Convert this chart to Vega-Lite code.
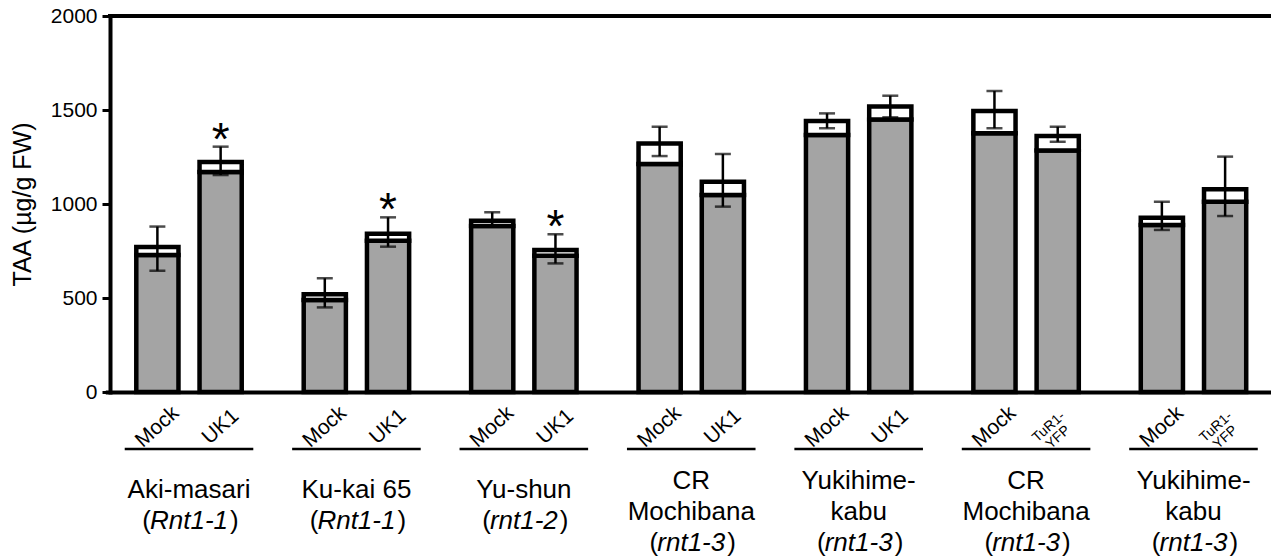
{
  "$schema": "https://vega.github.io/schema/vega-lite/v6.json",
  "width": 1161,
  "height": 376,
  "autosize": {"type": "none"},
  "padding": {"left": 110, "top": 16, "right": 0, "bottom": 166},
  "background": "white",
  "config": {
    "font": "Liberation Sans",
    "view": {"stroke": null},
    "axisX": {"labels": false, "ticks": false, "grid": false, "domainWidth": 4, "domainColor": "black"},
    "axisY": {"grid": false, "domainWidth": 4, "domainColor": "black", "domainCap": "square", "tickWidth": 3, "tickColor": "black", "tickSize": 8, "labelFontSize": 21, "labelColor": "black", "labelPadding": 5, "titleFontSize": 25, "titleFontWeight": "normal", "titleColor": "black", "titlePadding": 15}
  },
  "datasets": {
    "bars": [
      {"group": "Aki-masari", "role": "control", "treatment": "Mock", "hatch": 729, "total": 771, "lo": 645, "hi": 880, "star": false},
      {"group": "Aki-masari", "role": "treated", "treatment": "UK1", "hatch": 1170, "total": 1223, "lo": 1154, "hi": 1305, "star": true},
      {"group": "Ku-kai 65", "role": "control", "treatment": "Mock", "hatch": 489, "total": 520, "lo": 450, "hi": 605, "star": false},
      {"group": "Ku-kai 65", "role": "treated", "treatment": "UK1", "hatch": 805, "total": 842, "lo": 773, "hi": 929, "star": true},
      {"group": "Yu-shun", "role": "control", "treatment": "Mock", "hatch": 883, "total": 911, "lo": 879, "hi": 956, "star": false},
      {"group": "Yu-shun", "role": "treated", "treatment": "UK1", "hatch": 725, "total": 755, "lo": 684, "hi": 839, "star": true},
      {"group": "CR Mochibana (UK1)", "role": "control", "treatment": "Mock", "hatch": 1213, "total": 1322, "lo": 1255, "hi": 1411, "star": false},
      {"group": "CR Mochibana (UK1)", "role": "treated", "treatment": "UK1", "hatch": 1048, "total": 1119, "lo": 986, "hi": 1266, "star": false},
      {"group": "Yukihime-kabu (UK1)", "role": "control", "treatment": "Mock", "hatch": 1367, "total": 1441, "lo": 1403, "hi": 1482, "star": false},
      {"group": "Yukihime-kabu (UK1)", "role": "treated", "treatment": "UK1", "hatch": 1450, "total": 1518, "lo": 1461, "hi": 1576, "star": false},
      {"group": "CR Mochibana (TuR1-YFP)", "role": "control", "treatment": "Mock", "hatch": 1376, "total": 1495, "lo": 1403, "hi": 1601, "star": false},
      {"group": "CR Mochibana (TuR1-YFP)", "role": "treated", "treatment": "TuR1-YFP", "hatch": 1284, "total": 1362, "lo": 1331, "hi": 1411, "star": false},
      {"group": "Yukihime-kabu (TuR1-YFP)", "role": "control", "treatment": "Mock", "hatch": 888, "total": 927, "lo": 862, "hi": 1012, "star": false},
      {"group": "Yukihime-kabu (TuR1-YFP)", "role": "treated", "treatment": "TuR1-YFP", "hatch": 1012, "total": 1078, "lo": 936, "hi": 1252, "star": false}
    ],
    "groups": [
      {"group": "Aki-masari", "name": "Aki-masari", "gene": "Rnt1-1", "lines": 2},
      {"group": "Ku-kai 65", "name": "Ku-kai 65", "gene": "Rnt1-1", "lines": 2},
      {"group": "Yu-shun", "name": "Yu-shun", "gene": "rnt1-2", "lines": 2},
      {"group": "CR Mochibana (UK1)", "name": "CR\nMochibana", "gene": "rnt1-3", "lines": 3},
      {"group": "Yukihime-kabu (UK1)", "name": "Yukihime-\nkabu", "gene": "rnt1-3", "lines": 3},
      {"group": "CR Mochibana (TuR1-YFP)", "name": "CR\nMochibana", "gene": "rnt1-3", "lines": 3},
      {"group": "Yukihime-kabu (TuR1-YFP)", "name": "Yukihime-\nkabu", "gene": "rnt1-3", "lines": 3}
    ]
  },
  "layer": [
    {
      "data": {"name": "bars"},
      "mark": {"type": "bar", "fill": "#a4a4a4", "stroke": "black", "strokeWidth": 4.5},
      "encoding": {
        "x": {"field": "group", "type": "nominal", "title": null,
              "scale": {"domain": ["Aki-masari", "Ku-kai 65", "Yu-shun", "CR Mochibana (UK1)", "Yukihime-kabu (UK1)", "CR Mochibana (TuR1-YFP)", "Yukihime-kabu (TuR1-YFP)"], "range": [-4.7, 1167.2], "paddingInner": 0, "paddingOuter": 0}},
        "xOffset": {"field": "role", "type": "nominal", "scale": {"domain": ["control", "treated"], "paddingInner": 0.333, "paddingOuter": 0.49}},
        "y": {"field": "hatch", "type": "quantitative", "title": "TAA (µg/g FW)", "scale": {"domain": [0, 2000], "nice": false}, "axis": {"values": [0, 500, 1000, 1500, 2000], "format": "d"}}
      }
    },
    {
      "data": {"name": "bars"},
      "mark": {"type": "bar", "fill": "white", "stroke": "black", "strokeWidth": 4.5},
      "encoding": {
        "x": {"field": "group", "type": "nominal", "title": null},
        "xOffset": {"field": "role", "type": "nominal"},
        "y": {"field": "total", "type": "quantitative", "title": "TAA (µg/g FW)"},
        "y2": {"field": "hatch"}
      }
    },
    {
      "data": {"name": "bars"},
      "mark": {"type": "rule", "color": "black", "strokeWidth": 2.5},
      "encoding": {
        "x": {"field": "group", "type": "nominal", "title": null},
        "xOffset": {"field": "role", "type": "nominal"},
        "y": {"field": "lo", "type": "quantitative", "title": "TAA (µg/g FW)"},
        "y2": {"field": "hi"}
      }
    },
    {
      "data": {"name": "bars"},
      "mark": {"type": "tick", "color": "black", "size": 16, "thickness": 2.5},
      "encoding": {
        "x": {"field": "group", "type": "nominal", "title": null},
        "xOffset": {"field": "role", "type": "nominal"},
        "y": {"field": "lo", "type": "quantitative", "title": "TAA (µg/g FW)"}
      }
    },
    {
      "data": {"name": "bars"},
      "mark": {"type": "tick", "color": "black", "size": 16, "thickness": 2.5},
      "encoding": {
        "x": {"field": "group", "type": "nominal", "title": null},
        "xOffset": {"field": "role", "type": "nominal"},
        "y": {"field": "hi", "type": "quantitative", "title": "TAA (µg/g FW)"}
      }
    },
    {
      "data": {"name": "bars"},
      "transform": [{"filter": "datum.star"}],
      "mark": {"type": "text", "fontSize": 46, "color": "black", "align": "center", "baseline": "alphabetic", "dy": 8},
      "encoding": {
        "x": {"field": "group", "type": "nominal", "title": null},
        "xOffset": {"field": "role", "type": "nominal"},
        "y": {"field": "hi", "type": "quantitative", "title": "TAA (µg/g FW)"},
        "text": {"value": "*"}
      }
    },
    {
      "data": {"values": [{}]},
      "mark": {"type": "rule", "color": "black", "strokeWidth": 4, "strokeCap": "square"},
      "encoding": {"y": {"datum": 2000}}
    },
    {
      "data": {"name": "bars"},
      "transform": [{"filter": "datum.treatment !== 'TuR1-YFP'"}],
      "mark": {"type": "text", "fontSize": 21, "color": "black", "align": "center", "baseline": "middle", "angle": -42, "dx": -23.4, "dy": 26},
      "encoding": {
        "x": {"field": "group", "type": "nominal", "title": null},
        "xOffset": {"field": "role", "type": "nominal"},
        "y": {"datum": 0},
        "text": {"field": "treatment"}
      }
    },
    {
      "data": {"name": "bars"},
      "transform": [{"filter": "datum.treatment === 'TuR1-YFP'"}],
      "mark": {"type": "text", "fontSize": 14, "lineHeight": 14, "color": "black", "align": "center", "baseline": "middle", "angle": -42, "dx": -30.1, "dy": 20},
      "encoding": {
        "x": {"field": "group", "type": "nominal", "title": null},
        "xOffset": {"field": "role", "type": "nominal"},
        "y": {"datum": 0},
        "text": {"value": ["TuR1-", "YFP"]}
      }
    },
    {
      "data": {"name": "groups"},
      "mark": {"type": "rule", "color": "black", "strokeWidth": 2.5, "yOffset": 57},
      "encoding": {
        "x": {"field": "group", "type": "nominal", "title": null, "bandPosition": 0.116},
        "x2": {"field": "group", "bandPosition": 0.884},
        "y": {"datum": 0}
      }
    },
    {
      "data": {"name": "groups"},
      "transform": [{"filter": "datum.lines === 2"}],
      "mark": {"type": "text", "fontSize": 26, "color": "black", "align": "center", "baseline": "alphabetic", "dy": 106},
      "encoding": {
        "x": {"field": "group", "type": "nominal", "title": null},
        "y": {"datum": 0},
        "text": {"field": "name"}
      }
    },
    {
      "data": {"name": "groups"},
      "transform": [{"filter": "datum.lines === 3"}],
      "mark": {"type": "text", "fontSize": 26, "lineHeight": 31, "lineBreak": "\n", "color": "black", "align": "center", "baseline": "alphabetic", "dy": 97},
      "encoding": {
        "x": {"field": "group", "type": "nominal", "title": null},
        "y": {"datum": 0},
        "text": {"field": "name"}
      }
    },
    {
      "data": {"name": "groups"},
      "transform": [{"filter": "datum.lines === 2"}],
      "mark": {"type": "text", "fontSize": 26, "fontStyle": "italic", "color": "black", "align": "center", "baseline": "alphabetic", "dy": 137},
      "encoding": {
        "x": {"field": "group", "type": "nominal", "title": null},
        "y": {"datum": 0},
        "text": {"field": "gene"}
      }
    },
    {
      "data": {"name": "groups"},
      "transform": [{"filter": "datum.lines === 3"}],
      "mark": {"type": "text", "fontSize": 26, "fontStyle": "italic", "color": "black", "align": "center", "baseline": "alphabetic", "dy": 159},
      "encoding": {
        "x": {"field": "group", "type": "nominal", "title": null},
        "y": {"datum": 0},
        "text": {"field": "gene"}
      }
    },
    {
      "data": {"name": "groups"},
      "transform": [{"filter": "datum.gene === 'Rnt1-1'"}],
      "mark": {"type": "text", "fontSize": 26, "color": "black", "align": "right", "baseline": "alphabetic", "dx": -38, "dy": 137},
      "encoding": {"x": {"field": "group", "type": "nominal", "title": null}, "y": {"datum": 0}, "text": {"value": "("}}
    },
    {
      "data": {"name": "groups"},
      "transform": [{"filter": "datum.gene === 'Rnt1-1'"}],
      "mark": {"type": "text", "fontSize": 26, "color": "black", "align": "left", "baseline": "alphabetic", "dx": 41, "dy": 137},
      "encoding": {"x": {"field": "group", "type": "nominal", "title": null}, "y": {"datum": 0}, "text": {"value": ")"}}
    },
    {
      "data": {"name": "groups"},
      "transform": [{"filter": "datum.gene === 'rnt1-2'"}],
      "mark": {"type": "text", "fontSize": 26, "color": "black", "align": "right", "baseline": "alphabetic", "dx": -33, "dy": 137},
      "encoding": {"x": {"field": "group", "type": "nominal", "title": null}, "y": {"datum": 0}, "text": {"value": "("}}
    },
    {
      "data": {"name": "groups"},
      "transform": [{"filter": "datum.gene === 'rnt1-2'"}],
      "mark": {"type": "text", "fontSize": 26, "color": "black", "align": "left", "baseline": "alphabetic", "dx": 36, "dy": 137},
      "encoding": {"x": {"field": "group", "type": "nominal", "title": null}, "y": {"datum": 0}, "text": {"value": ")"}}
    },
    {
      "data": {"name": "groups"},
      "transform": [{"filter": "datum.gene === 'rnt1-3'"}],
      "mark": {"type": "text", "fontSize": 26, "color": "black", "align": "right", "baseline": "alphabetic", "dx": -33, "dy": 159},
      "encoding": {"x": {"field": "group", "type": "nominal", "title": null}, "y": {"datum": 0}, "text": {"value": "("}}
    },
    {
      "data": {"name": "groups"},
      "transform": [{"filter": "datum.gene === 'rnt1-3'"}],
      "mark": {"type": "text", "fontSize": 26, "color": "black", "align": "left", "baseline": "alphabetic", "dx": 36, "dy": 159},
      "encoding": {"x": {"field": "group", "type": "nominal", "title": null}, "y": {"datum": 0}, "text": {"value": ")"}}
    }
  ]
}
